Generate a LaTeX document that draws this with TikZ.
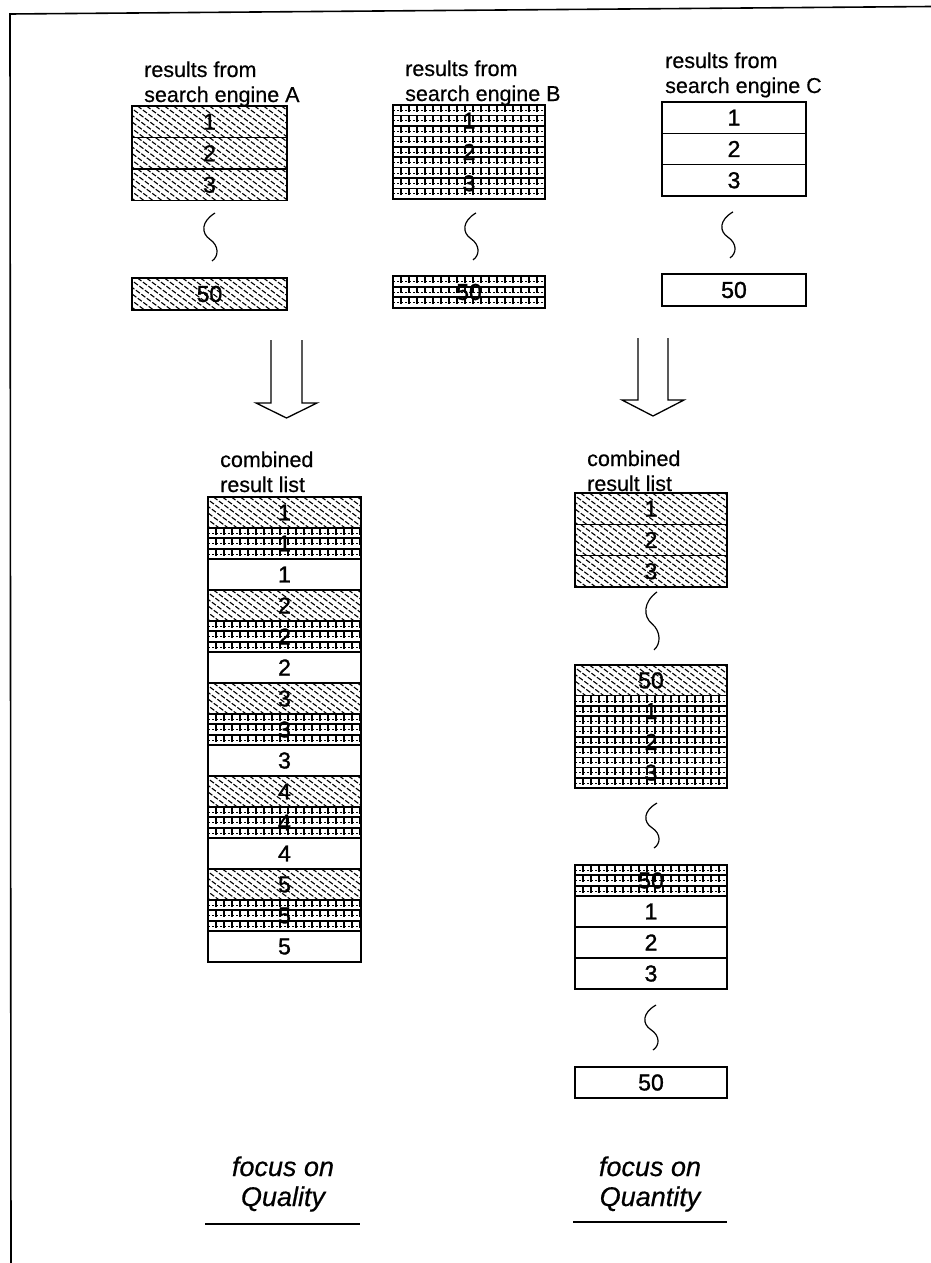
\documentclass[tikz,border=0pt]{standalone}
\usepackage{fontspec}
\setmainfont{Liberation Sans}[FakeBold=0.5]
\newfontfamily\digitfam{Liberation Sans}[FakeBold=1.3]
\usetikzlibrary{calc}
\newcommand\lblfont{\fontsize{21.5}{25}\selectfont}
\newcommand\digfont{\digitfam\fontsize{23}{25}\selectfont}
\newcommand\focfont{\fontsize{27}{30}\selectfont\itshape}
\newcommand\twoline[2]{\begin{tabular}[t]{@{}l@{}}#1\\#2\end{tabular}}
\newcommand\twolinec[2]{\begin{tabular}[t]{@{}c@{}}#1\\#2\end{tabular}}
\tikzset{
  hatchline/.style={line width=1.1pt, dash pattern=on 5pt off 1.8pt},
  gridline/.style={line width=1.7pt},
  gridthin/.style={line width=0.6pt, dash pattern=on 2pt off 2pt},
  gridvert/.style={line width=1.5pt, dash pattern=on 7pt off 3.4pt},
  cell/.style={draw=black, line width=1.3pt, inner sep=0pt, outer sep=0pt, font=\digfont},
  hatchA/.style={cell, path picture={
    \foreach \k in {-6,...,18}{
      \draw[hatchline] ($(path picture bounding box.north west)+(\k*9,-4)$) -- ++(54,40);
    }}},
  gridB/.style={cell, path picture={
    \foreach \f in {0.3333,0.6667}{
      \draw[gridline] ($(path picture bounding box.north west)!\f!(path picture bounding box.south west)$) -- ($(path picture bounding box.north east)!\f!(path picture bounding box.south east)$);
    }
    \foreach \f in {0.1667,0.5,0.8333}{
      \draw[gridthin] ($(path picture bounding box.north west)!\f!(path picture bounding box.south west)$) -- ($(path picture bounding box.north east)!\f!(path picture bounding box.south east)$);
    }
    \foreach \k in {1,...,19}{
      \draw[gridvert] ($(path picture bounding box.north west)+(\k*8,0)$) -- ($(path picture bounding box.south west)+(\k*8,0)$);
    }}},
  plainC/.style={cell},
  lbl/.style={inner sep=0pt, font=\lblfont},
  foc/.style={inner sep=0pt, font=\focfont},
  waveline/.style={line width=1.2pt},
  blockarrow/.style={line width=1.3pt, line join=miter},
  uline/.style={line width=2pt},
  frameline/.style={line width=1.6pt},
  pics/wavy/.style={code={
    \draw[waveline] (5,0) .. controls (-9,#1*0.18) and (-9,#1*0.42) .. (0,#1*0.55)
      .. controls (9,#1*0.68) and (9,#1*0.9) .. (2,#1);}},
}
\begin{document}
\begin{tikzpicture}[x={(1pt,0)}, y={(0,-1pt)}]
\fill[white] (0,0) rectangle (931,1263);
\useasboundingbox (0,0) rectangle (931,1263);
% frame
\draw[frameline] (931,6.5) -- (10,14) -- (11,1263);

% labels
\node[lbl, anchor=base west] (labA) at (144,77) {\twoline{results from}{search engine A}};
\node[lbl, anchor=base west] (labB) at (405,76) {\twoline{results from}{search engine B}};
\node[lbl, anchor=base west] (labC) at (665,68) {\twoline{results from}{search engine C}};

% engine A
\node[hatchA, minimum width=155pt, minimum height=31.5pt] (a1) at (209.5,121.75) {1};
\node[hatchA, minimum width=155pt, minimum height=31.5pt] (a2) at (209.5,153.25) {2};
\node[hatchA, minimum width=155pt, minimum height=31.5pt] (a3) at (209.5,184.75) {3};
\node[hatchA, minimum width=155pt, minimum height=32pt] (a50) at (209.5,294) {50};
% engine B
\node[gridB, minimum width=152pt, minimum height=31.3pt] (b1) at (469,120.65) {1};
\node[gridB, minimum width=152pt, minimum height=31.3pt] (b2) at (469,151.95) {2};
\node[gridB, minimum width=152pt, minimum height=31.3pt] (b3) at (469,183.25) {3};
\node[gridB, minimum width=152pt, minimum height=32pt] (b50) at (469,292) {50};
% engine C
\node[plainC, minimum width=144pt, minimum height=31.3pt] (c1) at (734,117.65) {1};
\node[plainC, minimum width=144pt, minimum height=31.3pt] (c2) at (734,148.95) {2};
\node[plainC, minimum width=144pt, minimum height=31.3pt] (c3) at (734,180.25) {3};
\node[plainC, minimum width=144pt, minimum height=32pt] (c50) at (734,290) {50};

\pic at ($(a3.south)+(0.5,12.5)$) {wavy=48};
\pic at ($(b3.south)+(2,14)$) {wavy=47};
\pic at ($(c3.south)+(-6,16)$) {wavy=46};

% block arrows
\draw[blockarrow] (271,340) -- (271,403) -- (256,403) -- (286.5,418) -- (317,403) -- (302,403) -- (302,340);
\draw[blockarrow] (638,338) -- (638,400) -- (622,400) -- (653,416) -- (684,400) -- (668,400) -- (668,338);

% combined labels
\node[lbl, anchor=base west] (labL) at (220,467) {\twoline{combined}{result list}};
\node[lbl, anchor=base west] (labR) at (587,466) {\twoline{combined}{result list}};

% left combined list
\node[hatchA, minimum width=153pt, minimum height=31pt] (l1) at (284.5,512.5) {1};
\node[gridB, minimum width=153pt, minimum height=31pt] (l2) at (284.5,543.5) {1};
\node[plainC, minimum width=153pt, minimum height=31pt] (l3) at (284.5,574.5) {1};
\node[hatchA, minimum width=153pt, minimum height=31pt] (l4) at (284.5,605.5) {2};
\node[gridB, minimum width=153pt, minimum height=31pt] (l5) at (284.5,636.5) {2};
\node[plainC, minimum width=153pt, minimum height=31pt] (l6) at (284.5,667.5) {2};
\node[hatchA, minimum width=153pt, minimum height=31pt] (l7) at (284.5,698.5) {3};
\node[gridB, minimum width=153pt, minimum height=31pt] (l8) at (284.5,729.5) {3};
\node[plainC, minimum width=153pt, minimum height=31pt] (l9) at (284.5,760.5) {3};
\node[hatchA, minimum width=153pt, minimum height=31pt] (l10) at (284.5,791.5) {4};
\node[gridB, minimum width=153pt, minimum height=31pt] (l11) at (284.5,822.5) {4};
\node[plainC, minimum width=153pt, minimum height=31pt] (l12) at (284.5,853.5) {4};
\node[hatchA, minimum width=153pt, minimum height=31pt] (l13) at (284.5,884.5) {5};
\node[gridB, minimum width=153pt, minimum height=31pt] (l14) at (284.5,915.5) {5};
\node[plainC, minimum width=153pt, minimum height=31pt] (l15) at (284.5,946.5) {5};

% right combined list
\node[hatchA, minimum width=152pt, minimum height=31.3pt] (r1) at (651,508.65) {1};
\node[hatchA, minimum width=152pt, minimum height=31.3pt] (r2) at (651,539.95) {2};
\node[hatchA, minimum width=152pt, minimum height=31.3pt] (r3) at (651,571.25) {3};
\node[hatchA, minimum width=152pt, minimum height=30.75pt] (r4) at (651,680.4) {50};
\node[gridB, minimum width=152pt, minimum height=30.75pt] (r5) at (651,711.15) {1};
\node[gridB, minimum width=152pt, minimum height=30.75pt] (r6) at (651,741.9) {2};
\node[gridB, minimum width=152pt, minimum height=30.75pt] (r7) at (651,772.65) {3};
\node[gridB, minimum width=152pt, minimum height=31pt] (r8) at (651,880.5) {50};
\node[plainC, minimum width=152pt, minimum height=31pt] (r9) at (651,911.5) {1};
\node[plainC, minimum width=152pt, minimum height=31pt] (r10) at (651,942.5) {2};
\node[plainC, minimum width=152pt, minimum height=31pt] (r11) at (651,973.5) {3};
\node[plainC, minimum width=152pt, minimum height=31pt] (r12) at (651,1082.5) {50};

\pic at ($(r3.south)+(1,5)$) {wavy=58};
\pic at ($(r7.south)+(1,15)$) {wavy=45};
\pic at ($(r11.south)+(0,16)$) {wavy=45};

% focus labels
\node[foc, anchor=base] (focL) at (283,1176) {\twolinec{focus on}{Quality}};
\node[foc, anchor=base] (focR) at (650,1176) {\twolinec{focus on}{Quantity}};
\draw[uline] (205,1224) -- (360,1224);
\draw[uline] (573,1222) -- (727,1222);
\end{tikzpicture}
\end{document}
